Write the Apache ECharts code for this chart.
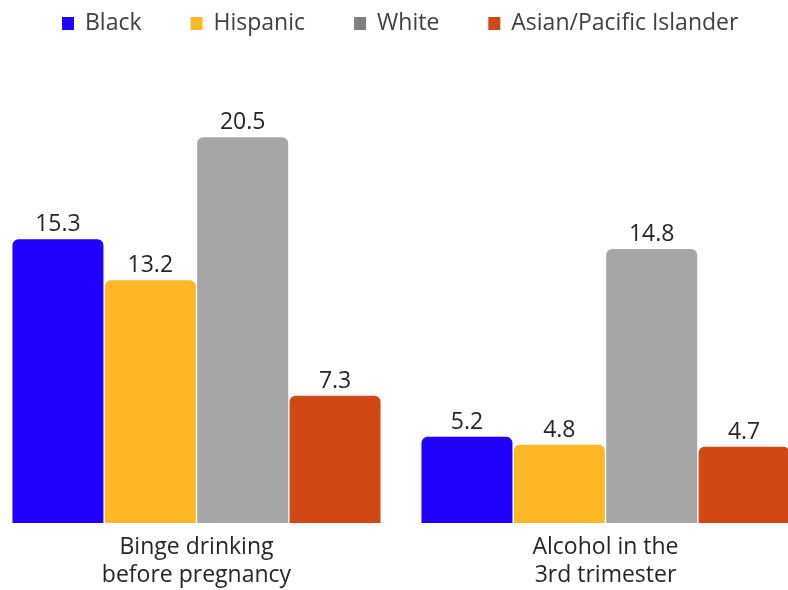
<!DOCTYPE html>
<html>
<head>
<meta charset="utf-8">
<script src="https://cdn.jsdelivr.net/npm/echarts@6/dist/echarts.min.js"></script>
<style>
  html, body { margin: 0; padding: 0; background: #fff; }
  #chart { width: 788px; height: 590px; }
</style>
</head>
<body>
<div id="chart"></div>
<script>
const categories = ['Binge drinking\nbefore pregnancy', 'Alcohol in the\n3rd trimester'];
const seriesNames = ['Black', 'Hispanic', 'White', 'Asian/Pacific Islander'];
const black = [15.3, 5.2];
const hispanic = [13.2, 4.8];
const white = [20.5, 14.8];
const asian = [7.3, 4.7];

const barColors = ['#2200ff', '#ffb726', '#a6a6a6', '#d24716'];
const legendColors = ['#2200ff', '#ffb726', '#808080', '#d24716'];
const font = '"Open Sans", sans-serif';

const chart = echarts.init(document.getElementById('chart'));

const makeSeries = (name, data, i) => ({
  name: name,
  type: 'bar',
  data: data,
  barWidth: 91,
  barGap: '1.5%',
  clip: true,
  itemStyle: { color: barColors[i], borderRadius: [6, 6, 0, 0] },
  label: {
    show: true,
    position: 'top',
    distance: 3,
    fontFamily: font,
    fontSize: 23,
    color: '#262626'
  }
});

chart.setOption({
  animation: false,
  legend: {
    top: 7,
    left: 57,
    itemWidth: 12,
    itemHeight: 13,
    itemGap: 49,
    icon: 'rect',
    textStyle: { fontFamily: font, fontSize: 23, color: '#404040', padding: [0, 0, 0, 6] },
    data: seriesNames.map((n, i) => ({ name: n, itemStyle: { color: legendColors[i] } }))
  },
  grid: { left: -8, right: -22, top: 108, bottom: 67, outerBoundsMode: 'none' },
  xAxis: {
    type: 'category',
    data: categories,
    axisLine: { show: false },
    axisTick: { show: false },
    axisLabel: {
      margin: 10,
      fontFamily: font,
      fontSize: 23,
      lineHeight: 28,
      color: '#262626'
    }
  },
  yAxis: {
    type: 'value',
    min: 0.8,
    max: 22,
    show: false,
    splitLine: { show: false }
  },
  series: [
    makeSeries('Black', black, 0),
    makeSeries('Hispanic', hispanic, 1),
    makeSeries('White', white, 2),
    makeSeries('Asian/Pacific Islander', asian, 3)
  ]
});
</script>
</body>
</html>
